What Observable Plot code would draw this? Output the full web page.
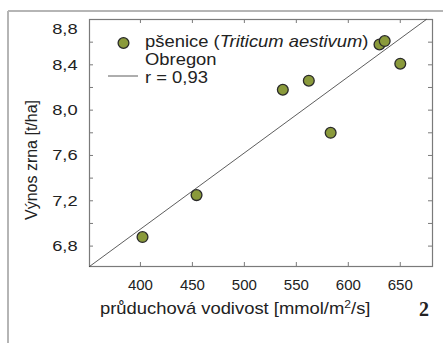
<!DOCTYPE html>
<html>
<head>
<meta charset="utf-8">
<script src="https://cdn.jsdelivr.net/npm/d3@7"></script>
<script src="https://cdn.jsdelivr.net/npm/@observablehq/plot@0.6"></script>
<style>
  html, body { margin: 0; padding: 0; background: #fff; }
  #wrap { position: relative; width: 443px; height: 343px; overflow: hidden; font-family: "Liberation Sans", Arial, sans-serif; }
  #wrap > svg { position: absolute; left: 0; top: 0; }
  #overlay { position: absolute; left: 0; top: 0; pointer-events: none; }
</style>
</head>
<body>
<div id="wrap"></div>
<script>
// Data
const conductance = [402, 454, 537, 562, 583, 630, 635, 650];   // průduchová vodivost [mmol/m2/s]
const grainYield  = [6.88, 7.25, 8.18, 8.26, 7.80, 8.58, 8.61, 8.41]; // Výnos zrna [t/ha]
const fitX = [351, 675];      // regression line ends (x)
const fitY = [6.62, 8.80];    // regression line ends (y)
const xTicks = [400, 450, 500, 550, 600, 650];
const yTicks = [6.8, 7.2, 7.6, 8.0, 8.4, 8.8];
const yMinorTicks = [6.8, 7.0, 7.2, 7.4, 7.6, 7.8, 8.0, 8.2, 8.4, 8.6, 8.8];
const seriesLabel = "pšenice";
const seriesLatin = "Triticum aestivum";
const siteLabel = "Obregon";
const rLabel = "r = 0,93";

const points = conductance.map((x, i) => ({x, y: grainYield[i]}));
const fit = fitX.map((x, i) => ({x, y: fitY[i]}));

const W = 443, H = 343, mL = 89, mR = 11, mT = 19, mB = 77;
const pw = W - mL - mR, ph = H - mT - mB;
const tk = 4;
const fmt = d => d.toFixed(1).replace(".", ",");
const boxColor = "#7a7a7a";

const chart = Plot.plot({
  width: W, height: H,
  marginLeft: mL, marginRight: mR, marginTop: mT, marginBottom: mB,
  style: {fontFamily: "'Liberation Sans', Arial, sans-serif", background: "transparent", color: "#222"},
  x: {domain: [351, 681]},
  y: {domain: [6.62, 8.8]},
  marks: [
    Plot.tickX(xTicks, {x: d => d, insetTop: ph - tk, stroke: boxColor}),
    Plot.tickX(xTicks, {x: d => d, insetBottom: ph - tk, stroke: boxColor}),
    Plot.tickY(yMinorTicks, {y: d => d, insetLeft: pw - tk, stroke: boxColor}),
    Plot.tickY(yMinorTicks, {y: d => d, insetRight: pw - tk, stroke: boxColor}),
    Plot.frame({stroke: boxColor, strokeWidth: 1.2}),
    Plot.axisX(xTicks, {tickSize: 0, tickPadding: 13, fontSize: 15, label: null}),
    Plot.axisY(yTicks, {tickSize: 0, tickPadding: 12, fontSize: 15, label: null, tickFormat: fmt}),
    Plot.line(fit, {x: "x", y: "y", stroke: "#333", strokeWidth: 0.8}),
    Plot.dot(points, {x: "x", y: "y", r: 5.4, fill: "#8a9a3b", stroke: "#2a2a2a", strokeWidth: 1.3})
  ]
});

const wrap = document.getElementById("wrap");
wrap.appendChild(chart);

// widen the y tick labels (reference glyphs are wider) and nudge the top one down
const yLab = chart.querySelector('g[aria-label="y-axis tick label"]');
if (yLab) {
  const ax = mL - 12;
  const t = yLab.getAttribute("transform") || "";
  yLab.setAttribute("transform", `translate(${ax},0) scale(1.22,1) translate(${-ax},0) ${t}`);
  yLab.querySelectorAll("text").forEach(el => {
    if (el.textContent === fmt(8.8)) el.setAttribute("dy", "0.32em");
    if (el.textContent === fmt(8.8)) {
      const tr = el.getAttribute("transform") || "";
      el.setAttribute("transform", tr + " translate(0,5)");
    }
  });
}

// Overlay: frame lines, legend, axis titles, panel number
const ns = "http://www.w3.org/2000/svg";
const ov = document.createElementNS(ns, "svg");
ov.setAttribute("id", "overlay");
ov.setAttribute("width", W);
ov.setAttribute("height", H);
ov.innerHTML = `
  <line x1="8" y1="11" x2="443" y2="11" stroke="#b5b5b5" stroke-width="2"/>
  <line x1="8" y1="11" x2="8" y2="343" stroke="#b5b5b5" stroke-width="2"/>
  <circle cx="123.5" cy="43" r="5.4" fill="#8a9a3b" stroke="#2a2a2a" stroke-width="1.3"/>
  <line x1="108" y1="76" x2="138" y2="76" stroke="#333" stroke-width="0.8"/>
  <g font-family="'Liberation Sans', Arial, sans-serif" font-size="16" fill="#222">
    <g transform="translate(145,0) scale(1.15,1) translate(-145,0)">
      <text x="145" y="47">${seriesLabel} (<tspan font-style="italic">${seriesLatin}</tspan>)</text>
      <text x="145" y="65">${siteLabel}</text>
      <text x="145" y="83">${rLabel}</text>
    </g>
    <g transform="translate(100,0) scale(1.15,1) translate(-100,0)">
      <text x="100" y="314">průduchová vodivost [mmol/m<tspan font-size="10.5" dy="-6">2</tspan><tspan dy="6">/s]</tspan></text>
    </g>
    <text transform="translate(37,160) rotate(-90)" text-anchor="middle">Výnos zrna [t/ha]</text>
  </g>
  <text x="424" y="316" text-anchor="middle" font-family="'Liberation Serif', 'DejaVu Serif', serif" font-weight="bold" font-size="20" fill="#222">2</text>
`;
wrap.appendChild(ov);
</script>
</body>
</html>
